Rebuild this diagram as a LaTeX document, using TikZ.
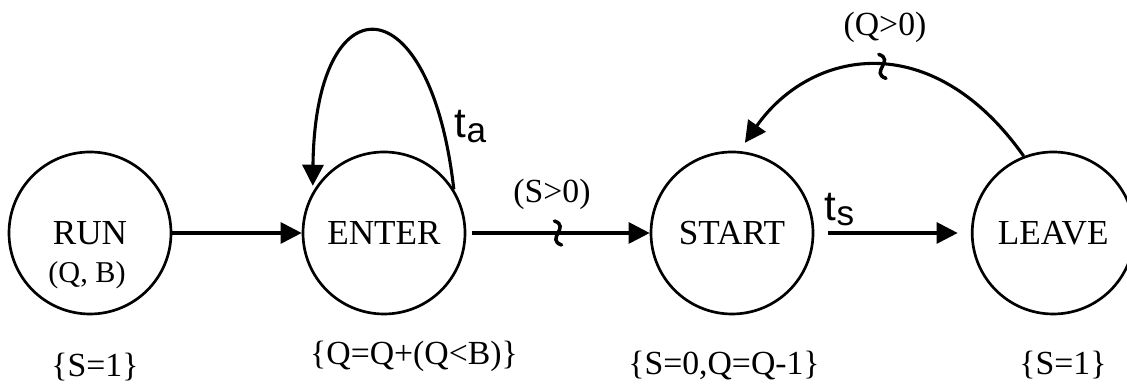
\documentclass[tikz,border=0pt]{standalone}
\usepackage{fontspec}
\setmainfont{Liberation Serif}
\setsansfont{Liberation Sans}
\usetikzlibrary{arrows.meta}

\begin{document}
\begin{tikzpicture}[
  statenode/.style={circle, draw, line width=1.9pt, minimum size=4.05cm, inner sep=0pt, font=\fontsize{25}{28}\selectfont},
  cond/.style={font=\fontsize{24}{27}\selectfont, anchor=base},
  trans/.style={line width=2.2pt, -{Triangle[length=15pt,width=15pt]}},
  tname/.style={font=\sffamily\fontsize{30}{32}\selectfont, anchor=base west},
  squig/.pic={\draw[line width=2.5pt, line cap=round] (-0.09,0.3) .. controls (0.32,0.16) and (-0.32,-0.16) .. (0.09,-0.3);}
]
  \useasboundingbox (0,0) rectangle (28.175,9.625);

  \node[statenode] (run) at (2.25,3.8) {RUN};
  \node[statenode] (enter) at (9.6,3.8) {ENTER};
  \node[statenode] (start) at (18.3,3.8) {START};
  \node[statenode] (leave) at (26.33,3.8) {LEAVE};
  \node[cond, font=\fontsize{21.5}{24}\selectfont] (runargs) at (2.175,2.55) {(Q, B)};

  \node[cond] (runact) at (2.375,0.2) {\{S=1\}};
  \node[cond] (enteract) at (10.35,0.5) {\{Q=Q+(Q<B)\}};
  \node[cond] (startact) at (18.1,0.25) {\{S=0,Q=Q-1\}};
  \node[cond] (leaveact) at (26.575,0.25) {\{S=1\}};

  \draw[trans] (run.east) -- (enter.west);
  \draw[trans, shorten <=0.15cm] (enter.east) -- coordinate[pos=0.5] (sq1) (start.west);
  \draw[trans, shorten <=0.33cm, shorten >=0.33cm] (start.east) -- (leave.west);
  \draw[trans, shorten >=0.15cm] (enter.32) .. controls (10.75,10.125) and (7.875,10.125) .. (enter.150);
  \draw[trans, shorten >=0.25cm] (leave.111) .. controls (23.275,9.0) and (20.25,8.375) .. coordinate[pos=0.47] (sq2) (start.85);
  \pic at (sq1) {squig};
  \pic at (sq2) {squig};

  \node[cond] (sgt) at (13.8,4.55) {(S>0)};
  \node[cond] (qgt) at (22.125,8.725) {(Q>0)};
  \node[tname] (ta) at (11.25,6.175) {t\raisebox{-3.5pt}{\fontsize{25}{25}\selectfont a}};
  \node[tname] (ts) at (20.5,4.1) {t\raisebox{-3.5pt}{\fontsize{25}{25}\selectfont s}};
\end{tikzpicture}
\end{document}
